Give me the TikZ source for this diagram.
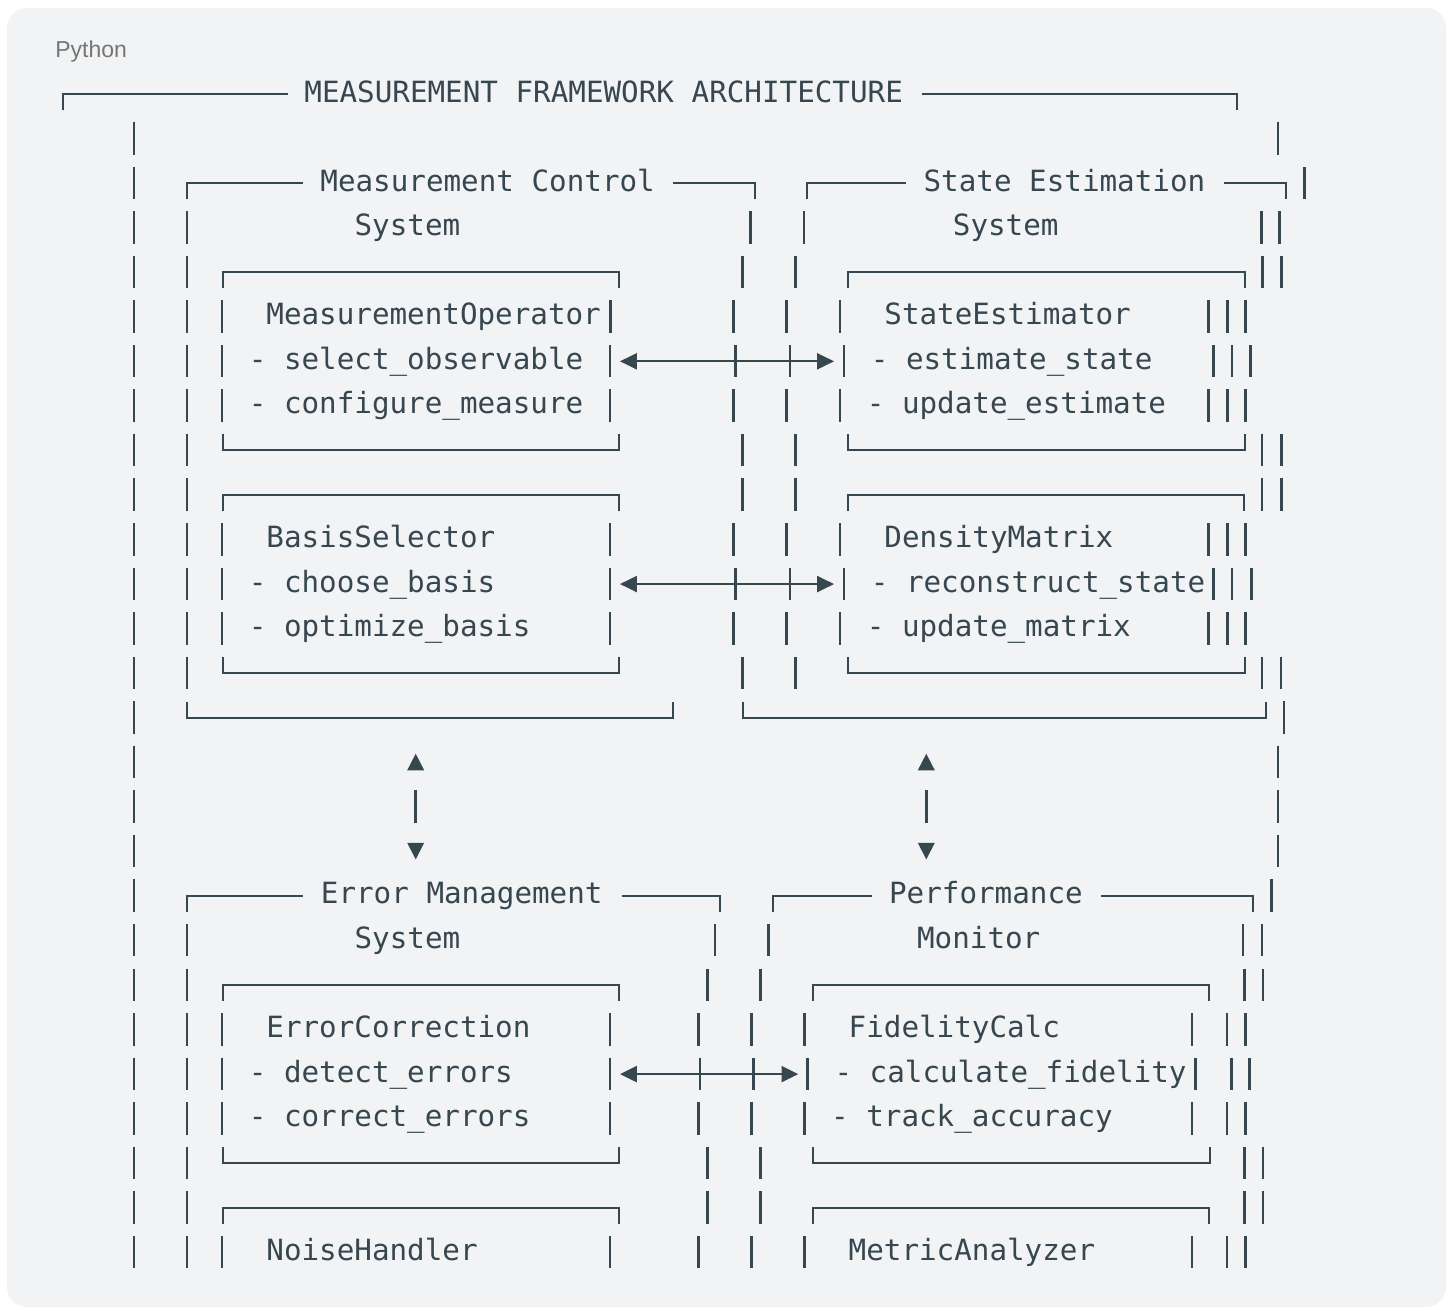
\documentclass[tikz,border=0pt]{standalone}
\usepackage{xcolor}
\usepackage{fontspec}
\setmonofont{DejaVu Sans Mono}
\setsansfont{Liberation Sans}
\usepackage{tikz}
\usetikzlibrary{arrows.meta}

\definecolor{ink}{HTML}{37474F}
\definecolor{codebg}{HTML}{F1F3F5}
\definecolor{langgray}{HTML}{757575}

% bars of one listing row, box tops and box bottoms
\newcommand{\vbars}[2]{\foreach \bx in {#2}{\draw[vbar] (\bx,{rowy(#1)-24.5}) -- (\bx,{rowy(#1)+8});}}
\newcommand{\boxtop}[3]{\draw[hline] (#2,{rowy(#1)+8}) |- (#3,{rowy(#1)-8}) -- (#3,{rowy(#1)+8});}
\newcommand{\boxbot}[3]{\draw[hline] (#2,{rowy(#1)-24}) |- (#3,{rowy(#1)-8}) -- (#3,{rowy(#1)-24});}

\begin{document}
\begin{tikzpicture}[x=0.5pt, y=-0.5pt,
    declare function={rowy(\r)=102+44.55*\r;},
    code/.style={anchor=base west, inner sep=0pt, text=ink, font=\ttfamily\fontsize{14.62}{17}\selectfont},
    vbar/.style={draw=ink, line width=1.25pt},
    hline/.style={draw=ink, line width=1pt},
    biarrow/.style={ink, line width=1pt, {Triangle[length=8.4pt, width=8pt]}-{Triangle[length=8.4pt, width=8pt]}}]
        % Draw background
        \fill[white] (0,0) rectangle (1453,1308);
        \fill[codebg, rounded corners=10pt] (7,8) rectangle (1446,1307);
        \useasboundingbox (0,0) rectangle (1453,1308);
        \node[anchor=base west, inner sep=0pt, text=langgray, font=\sffamily\fontsize{11.5}{13}\selectfont] (lang) at (55,57) {Python};

        % Draw outer frame
        \draw[hline] (63.3,{rowy(0)+8}) |- (288,{rowy(0)-8});
        \draw[hline] (921.7,{rowy(0)-8}) -| (1237.3,{rowy(0)+8});
        \node[code] (title) at (304,{rowy(0)}) {MEASUREMENT FRAMEWORK ARCHITECTURE};
        \vbars{1}{134,1278}

        % Draw upper systems
        \vbars{2}{134,1304.7}
        \draw[hline] (187,{rowy(2)+8}) |- (302.7,{rowy(2)-8});
        \draw[hline] (673.3,{rowy(2)-8}) -| (755,{rowy(2)+8});
        \draw[hline] (807.3,{rowy(2)+8}) |- (905.7,{rowy(2)-8});
        \draw[hline] (1224,{rowy(2)-8}) -| (1286.3,{rowy(2)+8});
        \node[code] (ctrlhead) at (320,{rowy(2)}) {Measurement Control};
        \node[code] (esthead) at (923.2,{rowy(2)}) {State Estimation};
        \vbars{3}{134,187,750.7,804,1261.3,1279.7}
        \node[code] (ctrlsys) at (354.2,{rowy(3)}) {System};
        \node[code] (estsys) at (952.5,{rowy(3)}) {System};

        \vbars{4}{134,187,742.3,795.3,1262.3,1281.3}
        \boxtop{4}{222.7}{619.3}
        \boxtop{4}{848.3}{1244.7}
        \vbars{5}{134,187,222,610.7,733.3,786.7,840,1208.7,1227.3,1245.7}
        \node[code] (measop) at (266,{rowy(5)}) {MeasurementOperator};
        \node[code] (stateest) at (884,{rowy(5)}) {StateEstimator};
        \vbars{6}{134,187,222,610,735.7,790,844,1213.7,1232,1250.7}
        \node[code] (selobs) at (248.4,{rowy(6)}) {- select\_observable};
        \node[code] (estst) at (870.4,{rowy(6)}) {- estimate\_state};
        \vbars{7}{134,187,222,610,733.3,786.7,840,1208.7,1227.3,1245.7}
        \node[code] (cfgmeas) at (248.4,{rowy(7)}) {- configure\_measure};
        \node[code] (updest) at (866.4,{rowy(7)}) {- update\_estimate};
        \vbars{8}{134,187,742.3,795.3,1262,1281.3}
        \boxbot{8}{222.7}{619.3}
        \boxbot{8}{848.3}{1244.7}

        \vbars{9}{134,187,742.3,795.3,1262,1281.3}
        \boxtop{9}{222.7}{619.3}
        \boxtop{9}{848.3}{1244.3}
        \vbars{10}{134,187,222,610,733.3,786.7,840,1208.7,1227.3,1245.7}
        \node[code] (basissel) at (266,{rowy(10)}) {BasisSelector};
        \node[code] (densmat) at (884,{rowy(10)}) {DensityMatrix};
        \vbars{11}{134,187,222,610,735.7,790,844,1213.7,1232,1251.3}
        \node[code] (choosebas) at (248.4,{rowy(11)}) {- choose\_basis};
        \node[code] (recst) at (870.4,{rowy(11)}) {- reconstruct\_state};
        \vbars{12}{134,187,222,610,733.3,786.7,840,1208.7,1227.3,1245.7}
        \node[code] (optbas) at (248.4,{rowy(12)}) {- optimize\_basis};
        \node[code] (updmat) at (866.4,{rowy(12)}) {- update\_matrix};
        \vbars{13}{134,187,742.3,795.3,1262,1281}
        \boxbot{13}{222.7}{619.3}
        \boxbot{13}{848.3}{1244.7}

        \vbars{14}{134,1284}
        \boxbot{14}{187}{673.3}
        \boxbot{14}{743.3}{1266.3}

        % Draw links between systems
        \vbars{15}{134,1278}
        \vbars{16}{134,1278}
        \vbars{17}{134,1278}
        \foreach \lx in {415.7,926.3} {
            \fill[ink] (\lx-8.5,{rowy(15)}) -- (\lx+8.5,{rowy(15)}) -- (\lx,{rowy(15)-16.5}) -- cycle;
            \draw[vbar] (\lx,{rowy(16)-24.5}) -- (\lx,{rowy(16)+8});
            \fill[ink] (\lx-8.5,{rowy(17)-16.5}) -- (\lx+8.5,{rowy(17)-16.5}) -- (\lx,{rowy(17)}) -- cycle;
        }

        % Draw lower systems
        \vbars{18}{134,1271.3}
        \draw[hline] (187,{rowy(18)+8}) |- (303.3,{rowy(18)-8});
        \draw[hline] (621.7,{rowy(18)-8}) -| (720,{rowy(18)+8});
        \draw[hline] (773.3,{rowy(18)+8}) |- (871.7,{rowy(18)-8});
        \draw[hline] (1101.3,{rowy(18)-8}) -| (1253.3,{rowy(18)+8});
        \node[code] (errhead) at (320.5,{rowy(18)}) {Error Management};
        \node[code] (perfhead) at (888.7,{rowy(18)}) {Performance};
        \vbars{19}{134,187,715,768.3,1243,1262}
        \node[code] (errsys) at (354.2,{rowy(19)}) {System};
        \node[code] (perfmon) at (916.7,{rowy(19)}) {Monitor};

        \vbars{20}{134,187,707.3,760.3,1244.7,1263}
        \boxtop{20}{222.7}{619.3}
        \boxtop{20}{813.3}{1209}
        \vbars{21}{134,187,222,610,698.3,751.7,804.3,1192,1227,1245.7}
        \node[code] (errcorr) at (266,{rowy(21)}) {ErrorCorrection};
        \node[code] (fidcalc) at (848.3,{rowy(21)}) {FidelityCalc};
        \vbars{22}{134,187,222,610,700,753.7,807.7,1195.7,1231.3,1249.7}
        \node[code] (deterr) at (248.4,{rowy(22)}) {- detect\_errors};
        \node[code] (calcfid) at (834.1,{rowy(22)}) {- calculate\_fidelity};
        \vbars{23}{134,187,222,610,698.3,751.7,804.3,1192,1227,1245.7}
        \node[code] (correrr) at (248.4,{rowy(23)}) {- correct\_errors};
        \node[code] (trackacc) at (830.7,{rowy(23)}) {- track\_accuracy};
        \vbars{24}{134,187,707.3,760.3,1244.7,1263}
        \boxbot{24}{222.7}{619.3}
        \boxbot{24}{813.3}{1209.7}

        \vbars{25}{134,187,707.3,760.3,1244.7,1263}
        \boxtop{25}{222.7}{619.3}
        \boxtop{25}{813.3}{1209}
        \vbars{26}{134,187,222,610,698.3,751.7,804.3,1192,1227,1245.7}
        \node[code] (noiseh) at (266,{rowy(26)}) {NoiseHandler};
        \node[code] (metrican) at (848.3,{rowy(26)}) {MetricAnalyzer};

        % Draw data flow arrows
        \coordinate (selobsR) at (620,{rowy(6)-8});
        \coordinate (eststL) at (834,{rowy(6)-8});
        \coordinate (choosebasR) at (620,{rowy(11)-8});
        \coordinate (recstL) at (834,{rowy(11)-8});
        \coordinate (deterrR) at (620,{rowy(22)-8});
        \coordinate (calcfidL) at (798.3,{rowy(22)-8});
        \draw[biarrow] (selobsR) -- (eststL);
        \draw[biarrow] (choosebasR) -- (recstL);
        \draw[biarrow] (deterrR) -- (calcfidL);
    \end{tikzpicture}
\end{document}
